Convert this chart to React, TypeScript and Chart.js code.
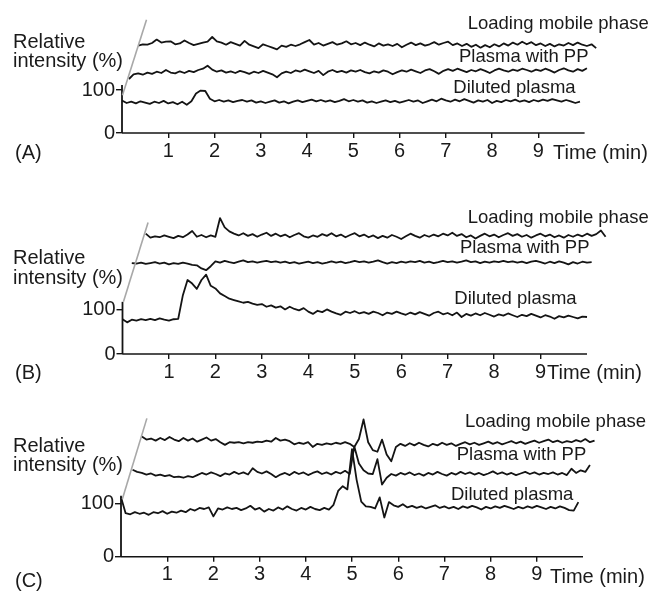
import { useEffect, useRef } from "react";
import { Chart, registerables } from "chart.js";

Chart.register(...registerables);

const FONT = '"Liberation Sans", Arial, Helvetica, sans-serif';
Chart.defaults.font.family = FONT;

// ---------- shared data ----------
const STEP = 0.1; // min between samples
const X_TICKS = [1, 2, 3, 4, 5, 6, 7, 8, 9];
const Y_TICKS = [0, 100];
const X_AXIS_END = 10; // min, where the drawn time axis stops
const X_VIEW_MAX = 10.6; // traces run a little past the axis end
const SERIES_NAMES = ["Loading mobile phase", "Plasma with PP", "Diluted plasma"];
const Y_LABEL = ["Relative", "intensity (%)"];
const X_LABEL = "Time (min)";

// ---------- panel A ----------
const A_LOADING_START = 0.35;
const A_LOADING = [
  204, 207, 206, 210, 218, 211, 213, 214, 207, 209,
  216, 210, 205, 208, 211, 213, 224, 214, 211, 206,
  212, 208, 204, 215, 206, 202, 198, 207, 203, 199,
  195, 204, 201, 206, 203, 207, 212, 217, 206, 210,
  204, 208, 212, 206, 209, 214, 207, 210, 205, 211,
  206, 202, 209, 204, 207, 203, 208, 200, 206, 211,
  205, 209, 204, 207, 212, 206, 210, 213, 205, 209,
  203, 208, 201, 206, 199, 205, 200, 207, 202, 209,
  204, 211, 206, 213, 207, 212, 205, 209, 203, 208,
  202, 207, 204, 210, 205, 211, 206, 203, 207, 198,
];
const A_PLASMA_START = 0.15;
const A_PLASMA = [
  126, 137, 139, 136, 141, 138, 143, 140, 147, 141,
  139, 144, 140, 145, 142, 147, 150, 157, 148, 143,
  146, 141, 144, 140, 145, 142, 138, 143, 140, 145,
  141, 137, 130, 139, 143, 140, 146, 143, 148, 144,
  140, 145, 135, 143, 147, 142, 145, 141, 146, 143,
  147, 142, 139, 144, 141, 146, 143, 137, 142, 146,
  143, 148, 144, 140, 146, 149, 144, 138, 145, 149,
  145, 150, 146, 142, 147, 144, 149, 145, 140, 146,
  150, 146, 143, 148, 145, 150, 147, 143, 148, 145,
  150, 146, 141, 147, 151, 146, 143, 149, 145, 151,
];
const A_DILUTED_START = 0.0;
const A_DILUTED = [
  76, 70, 73, 69, 74, 71, 68, 73, 70, 75,
  69, 72, 67, 73, 66, 74, 92, 99, 98, 80,
  74, 77, 73, 76, 72, 75, 77, 73, 76, 71,
  74, 70, 73, 76, 71, 74, 69, 73, 76, 72,
  75, 78, 74, 77, 73, 76, 72, 75, 79, 74,
  77, 73, 76, 71, 74, 70, 73, 76, 72, 75,
  71, 74, 77, 73, 76, 70, 74, 78, 74, 80,
  76, 73, 78, 74, 79, 75, 71, 76, 73, 77,
  70, 75, 72, 77, 74, 78, 73, 76, 72, 77,
  74, 78, 75, 79, 76, 73, 77, 74, 70, 73,
];
const A_AXIS_TOP = 112;
const A_BREAK_X = [0.01, 0.53];
const A_BREAK_Y = [88, 264];

// ---------- panel B ----------
const B_LOADING_START = 0.5;
const B_LOADING = [
  270, 261, 264, 262, 266, 263, 260, 265, 262, 268,
  276, 263, 267, 262, 266, 263, 305, 284, 275, 270,
  266, 271, 265, 269, 263, 268, 272, 265, 270, 264,
  268, 262, 267, 271, 264, 261, 266, 263, 269, 265,
  271, 264, 268, 262, 267, 271, 264, 268, 262, 266,
  260, 265, 261, 267, 263, 258, 264, 270, 265, 261,
  267, 263, 268, 264, 270, 266, 272, 265, 269, 262,
  266, 259, 265, 270, 264, 268, 262, 267, 271, 265,
  269, 263, 267, 261, 266, 270, 264, 268, 262, 266,
  261, 267, 263, 268, 264, 270, 265, 269, 277, 263,
];
const B_PLASMA_START = 0.2;
const B_PLASMA = [
  204, 203, 205, 202, 204, 206, 203, 205, 201, 204,
  202, 205, 203, 200, 199, 192, 188, 197, 208, 205,
  209, 206, 204, 207, 210, 206, 208, 205, 207, 209,
  206, 208, 205, 207, 204, 206, 203, 205, 207, 204,
  206, 203, 205, 208, 205, 207, 204, 206, 209, 206,
  208, 205, 207, 210, 206, 203, 206, 204, 207, 205,
  208, 206, 209, 205, 207, 204, 206, 209, 206, 208,
  205, 207, 210, 206, 208, 204, 207, 205, 208, 206,
  209, 206, 208, 205, 207, 204, 207, 209, 206, 203,
  207, 204, 208, 205, 201, 206, 203, 207, 205, 206,
];
const B_DILUTED_START = 0.0;
const B_DILUTED = [
  78, 71, 77, 75, 78, 76, 79, 76, 80, 77,
  75, 78, 79, 132, 166, 158, 146, 166, 178, 153,
  147, 136, 130, 124, 121, 118, 115, 117, 113, 110,
  112, 106, 109, 104, 107, 100, 106, 101, 98, 103,
  95, 90, 97, 94, 100, 95, 91, 88, 95, 92,
  96, 91, 94, 90, 95, 92, 87, 93, 90, 95,
  91, 88, 93, 89, 94, 90, 86, 92, 95, 89,
  92, 87, 93, 83, 90, 86, 91, 87, 92, 88,
  84, 89, 86, 91, 87, 83, 88, 85, 90, 86,
  82, 87, 84, 79, 85, 82, 86, 83, 80, 84,
  83,
];
const B_AXIS_TOP = 117;
const B_BREAK_X = [0.02, 0.55];
const B_BREAK_Y = [117, 295];

// ---------- panel C ----------
const C_LOADING_START = 0.45;
const C_LOADING = [
  227, 221, 223, 219, 224, 220, 226, 221, 218, 224,
  219, 223, 217, 221, 225, 219, 222, 216, 211, 216,
  215, 216, 214, 216, 215, 217, 216, 219, 217, 224,
  219, 221, 218, 212, 215, 213, 216, 207, 213, 211,
  214, 212, 215, 213, 216, 213, 207, 222, 259, 216,
  201, 198, 221, 193, 180, 207, 213, 209, 214, 210,
  215, 211, 208, 213, 210, 215, 211, 214, 209, 213,
  216, 212, 215, 211, 214, 217, 213, 216, 212, 215,
  218, 214, 217, 213, 216, 219, 215, 218, 221, 216,
  219, 215, 218, 216, 220, 217, 222, 216, 219,
];
const C_PLASMA_START = 0.25;
const C_PLASMA = [
  164, 160, 158, 155, 157, 153, 155, 152, 154, 150,
  151, 149, 152, 150, 154, 158, 155, 159, 156, 152,
  157, 155, 160, 156, 159, 155, 167, 160, 157, 161,
  156, 150, 155, 158, 154, 160, 156, 159, 154, 158,
  161, 156, 159, 155, 160, 157, 162, 156, 208, 176,
  163, 157, 156, 184, 136, 149, 156, 153, 158, 155,
  159, 154, 157, 153, 158, 155, 160, 156, 153, 158,
  155, 160, 156, 159, 155, 158, 154, 157, 161, 156,
  159, 155, 158, 154, 157, 160, 156, 159, 155, 158,
  156, 159, 155, 158, 154, 166, 158, 163, 160, 173,
];
const C_DILUTED_START = 0.0;
const C_DILUTED = [
  112, 82, 80, 84, 81, 83, 79, 84, 82, 86,
  81, 85, 83, 87, 84, 90, 87, 92, 90, 93,
  76, 91, 89, 93, 90, 92, 88, 91, 96, 89,
  92, 85, 90, 87, 93, 89, 95, 90, 87, 92,
  89, 94, 90, 88, 92, 89, 98, 124, 133, 127,
  203, 145, 104, 95, 94, 91, 112, 74, 103, 97,
  94, 99, 93, 96, 92, 95, 91, 94, 97, 92,
  95, 91, 94, 90, 95, 92, 96, 93, 89, 94,
  91, 95, 92, 96, 93, 90, 94, 91, 95, 92,
  96, 93, 90, 94, 91, 95, 92, 88, 87, 103,
];
const C_AXIS_TOP = 115;
const C_BREAK_X = [0.03, 0.56];
const C_BREAK_Y = [109, 261];

// ---------- helpers ----------
const toPoints = (start: number, values: number[]) =>
  values.map((v, i) => ({ x: +(start + i * STEP).toFixed(3), y: v }));
const pairPoints = (xs: number[], ys: number[]) => xs.map((x, i) => ({ x, y: ys[i] }));

type TextItem = { text: string; x: number; y: number; size: number };

type PanelCfg = {
  top: number; // page y of canvas
  height: number;
  axisY: number; // page y of zero line
  left: number; // page x of time 0
  ppm: number; // px per minute
  ppu: number; // px per intensity unit
  ymax: number;
  series: { start: number; values: number[] }[];
  axisTop: number;
  breakX: number[];
  breakY: number[];
  texts: TextItem[];
};

const textPlugin = {
  id: "panelText",
  afterDraw(chart: any, _args: any, opts: any) {
    const ctx = chart.ctx;
    ctx.save();
    ctx.fillStyle = "#1a1a1a";
    ctx.textAlign = "left";
    ctx.textBaseline = "alphabetic";
    for (const t of opts.items as TextItem[]) {
      ctx.font = `${t.size}px ${FONT}`;
      ctx.fillText(t.text, t.x, t.y);
    }
    ctx.restore();
  },
};

const INK = "#141414";

function Panel({ cfg }: { cfg: PanelCfg }) {
  const ref = useRef<HTMLCanvasElement>(null);
  useEffect(() => {
    const padTop = cfg.axisY - cfg.top - cfg.ymax * cfg.ppu;
    const xHeight = cfg.top + cfg.height - cfg.axisY;
    const rightPx = cfg.left + X_VIEW_MAX * cfg.ppm;
    const traces = cfg.series.map((s, i) => ({
      label: SERIES_NAMES[i],
      data: toPoints(s.start, s.values),
      borderColor: INK,
      borderWidth: 1.8,
      pointRadius: 0,
      tension: 0,
      clip: false as any,
      borderJoinStyle: "round" as const,
    }));
    const chart = new Chart(ref.current as HTMLCanvasElement, {
      type: "line",
      data: {
        datasets: [
          {
            label: "break",
            data: pairPoints(cfg.breakX, cfg.breakY),
            borderColor: "#a8a8a8",
            borderWidth: 1.6,
            pointRadius: 0,
            clip: false as any,
          },
          {
            label: "y axis",
            data: pairPoints([0, 0], [0, cfg.axisTop]),
            borderColor: INK,
            borderWidth: 1.8,
            pointRadius: 0,
            clip: false as any,
          },
          {
            label: "x axis",
            data: pairPoints([0, X_AXIS_END], [0, 0]),
            borderColor: INK,
            borderWidth: 1.6,
            pointRadius: 0,
            clip: false as any,
          },
          ...traces,
        ],
      },
      options: {
        responsive: false,
        animation: false,
        events: [],
        layout: {
          padding: { top: padTop, bottom: 0, left: 0, right: 651 - rightPx },
        },
        plugins: {
          legend: { display: false },
          tooltip: { enabled: false },
          panelText: { items: cfg.texts },
        } as any,
        scales: {
          x: {
            type: "linear",
            min: 0,
            max: X_VIEW_MAX,
            afterBuildTicks: (s: any) => {
              s.ticks = X_TICKS.map((v) => ({ value: v }));
            },
            afterFit: (s: any) => {
              s.height = xHeight;
            },
            grid: {
              drawOnChartArea: false,
              drawTicks: true,
              tickLength: 5,
              color: INK,
              lineWidth: 1.4,
            },
            border: { display: false },
            ticks: {
              autoSkip: false,
              maxRotation: 0,
              padding: 1,
              color: "#1a1a1a",
              font: { size: 20, family: FONT },
            },
          },
          y: {
            type: "linear",
            min: 0,
            max: cfg.ymax,
            afterBuildTicks: (s: any) => {
              s.ticks = Y_TICKS.map((v) => ({ value: v }));
            },
            afterFit: (s: any) => {
              s.width = cfg.left;
            },
            grid: {
              drawOnChartArea: false,
              drawTicks: true,
              tickLength: 6,
              color: INK,
              lineWidth: 1.4,
            },
            border: { display: false },
            ticks: {
              padding: 1,
              color: "#1a1a1a",
              font: { size: 20, family: FONT },
            },
          },
        },
      },
      plugins: [textPlugin as any],
    });
    return () => chart.destroy();
  }, [cfg]);
  return (
    <canvas
      ref={ref}
      width={651}
      height={cfg.height}
      style={{ position: "absolute", left: 0, top: cfg.top, width: 651, height: cfg.height }}
    />
  );
}

const labelTexts = (
  tag: string,
  ylab: [number, number],
  tagY: number,
  timeX: number,
  timeY: number,
  names: [number, number][]
): TextItem[] => [
  { text: Y_LABEL[0], x: 13, y: ylab[0], size: 20 },
  { text: Y_LABEL[1], x: 13, y: ylab[1], size: 20 },
  { text: tag, x: 15, y: tagY, size: 20 },
  { text: X_LABEL, x: timeX, y: timeY, size: 20 },
  ...names.map(([x, y], i) => ({ text: SERIES_NAMES[i], x, y, size: 18.5 })),
];

const PANELS: PanelCfg[] = [
  {
    top: 0,
    height: 185,
    axisY: 133,
    left: 122,
    ppm: 46.26,
    ppu: 0.46,
    ymax: 280,
    series: [
      { start: A_LOADING_START, values: A_LOADING },
      { start: A_PLASMA_START, values: A_PLASMA },
      { start: A_DILUTED_START, values: A_DILUTED },
    ],
    axisTop: A_AXIS_TOP,
    breakX: A_BREAK_X,
    breakY: A_BREAK_Y,
    texts: labelTexts("(A)", [47.7, 67], 158.5, 553, 158.5, [
      [467.7, 29.3],
      [459, 61.7],
      [453.3, 92.7],
    ]),
  },
  {
    top: 185,
    height: 205,
    axisY: 354,
    left: 122.5,
    ppm: 46.45,
    ppu: 0.46,
    ymax: 350,
    series: [
      { start: B_LOADING_START, values: B_LOADING },
      { start: B_PLASMA_START, values: B_PLASMA },
      { start: B_DILUTED_START, values: B_DILUTED },
    ],
    axisTop: B_AXIS_TOP,
    breakX: B_BREAK_X,
    breakY: B_BREAK_Y,
    texts: labelTexts("(B)", [79, 99], 194, 547, 194, [
      [467.7, 38.3],
      [460, 68.3],
      [454.3, 119.3],
    ]),
  },
  {
    top: 390,
    height: 202,
    axisY: 556.7,
    left: 121,
    ppm: 46.2,
    ppu: 0.55,
    ymax: 290,
    series: [
      { start: C_LOADING_START, values: C_LOADING },
      { start: C_PLASMA_START, values: C_PLASMA },
      { start: C_DILUTED_START, values: C_DILUTED },
    ],
    axisTop: C_AXIS_TOP,
    breakX: C_BREAK_X,
    breakY: C_BREAK_Y,
    texts: labelTexts("(C)", [61.5, 81], 197, 550, 193, [
      [465, 36.7],
      [456.7, 70],
      [451, 110],
    ]),
  },
];

export default function App() {
  return (
    <div
      style={{
        position: "absolute",
        left: 0,
        top: 0,
        width: 651,
        height: 592,
        background: "#ffffff",
        overflow: "hidden",
      }}
    >
      {PANELS.map((p, i) => (
        <Panel key={i} cfg={p} />
      ))}
    </div>
  );
}
